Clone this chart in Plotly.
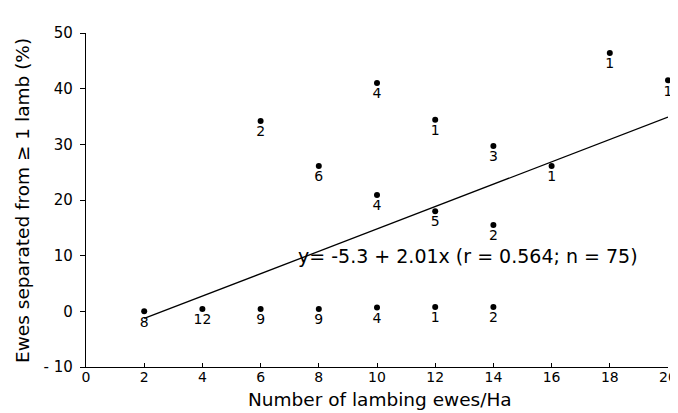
import plotly.graph_objects as go

# Data
x_vals = [2, 4, 6, 8, 10, 12, 14, 6, 8, 10, 10, 12, 12, 14, 14, 16, 18, 20]
y_vals = [0, 0.4, 0.4, 0.4, 0.7, 0.8, 0.8, 34.2, 26.1, 41.0, 20.9, 34.4, 18.0, 29.7, 15.5, 26.1, 46.4, 41.5]
n_labels = ["8", "12", "9", "9", "4", "1", "2", "2", "6", "4", "4", "1", "5", "3", "2", "1", "1", "1"]

intercept = -5.3
slope = 2.01
fit_x = [2, 20]
fit_y = [intercept + slope * v for v in fit_x]

x_ticks = [0, 2, 4, 6, 8, 10, 12, 14, 16, 18, 20]
y_ticks = [-10, 0, 10, 20, 30, 40, 50]

equation = "y= -5.3 + 2.01x (r = 0.564; n = 75)"
x_title = "Number of lambing ewes/Ha"
y_title = "Ewes separated from \u2265 1 lamb (%)"

FONT = "DejaVu Sans, Liberation Sans, Arial"

fig = go.Figure()
fig.add_trace(go.Scatter(
    x=fit_x, y=fit_y, mode="lines",
    line=dict(color="black", width=1.3),
    hoverinfo="skip", showlegend=False, cliponaxis=False,
))
fig.add_trace(go.Scatter(
    x=x_vals, y=y_vals, mode="markers+text",
    text=n_labels, textposition="bottom center",
    textfont=dict(family=FONT, size=14, color="black"),
    marker=dict(color="black", size=6),
    showlegend=False, cliponaxis=False,
))

fig.add_annotation(
    x=7.2, y=9.9, xref="x", yref="y", text=equation, showarrow=False,
    xanchor="left", yanchor="middle",
    font=dict(family=FONT, size=19, color="black"),
)
fig.add_annotation(
    x=0.505, y=-0.098, xref="paper", yref="paper", text=x_title, showarrow=False,
    xanchor="center", yanchor="middle",
    font=dict(family=FONT, size=18.5, color="black"),
)
fig.add_annotation(
    x=-0.11, y=0.5, xref="paper", yref="paper", text=y_title, showarrow=False,
    xanchor="center", yanchor="middle", textangle=-90,
    font=dict(family=FONT, size=18.5, color="black"),
)

fig.update_layout(
    width=678, height=413,
    margin=dict(l=78, r=9, t=25, b=54),
    paper_bgcolor="white", plot_bgcolor="white",
    font=dict(family=FONT, color="black"),
    xaxis=dict(
        range=[0, 20], tickvals=x_ticks, ticktext=[str(t) for t in x_ticks],
        showgrid=False, zeroline=False, showline=True, linecolor="black", linewidth=1.3,
        ticks="inside", ticklen=4, tickcolor="black", ticklabelstandoff=-3,
        tickfont=dict(family=FONT, size=14, color="black"),
    ),
    yaxis=dict(
        range=[-10, 50], tickvals=y_ticks, ticktext=[str(t) if t >= 0 else "- " + str(-t) for t in y_ticks],
        showgrid=False, zeroline=False, showline=True, linecolor="black", linewidth=1.3,
        ticks="outside", ticklen=5, tickcolor="black", ticklabelstandoff=4,
        tickfont=dict(family=FONT, size=15, color="black"),
    ),
)

fig.write_html("out.html")
